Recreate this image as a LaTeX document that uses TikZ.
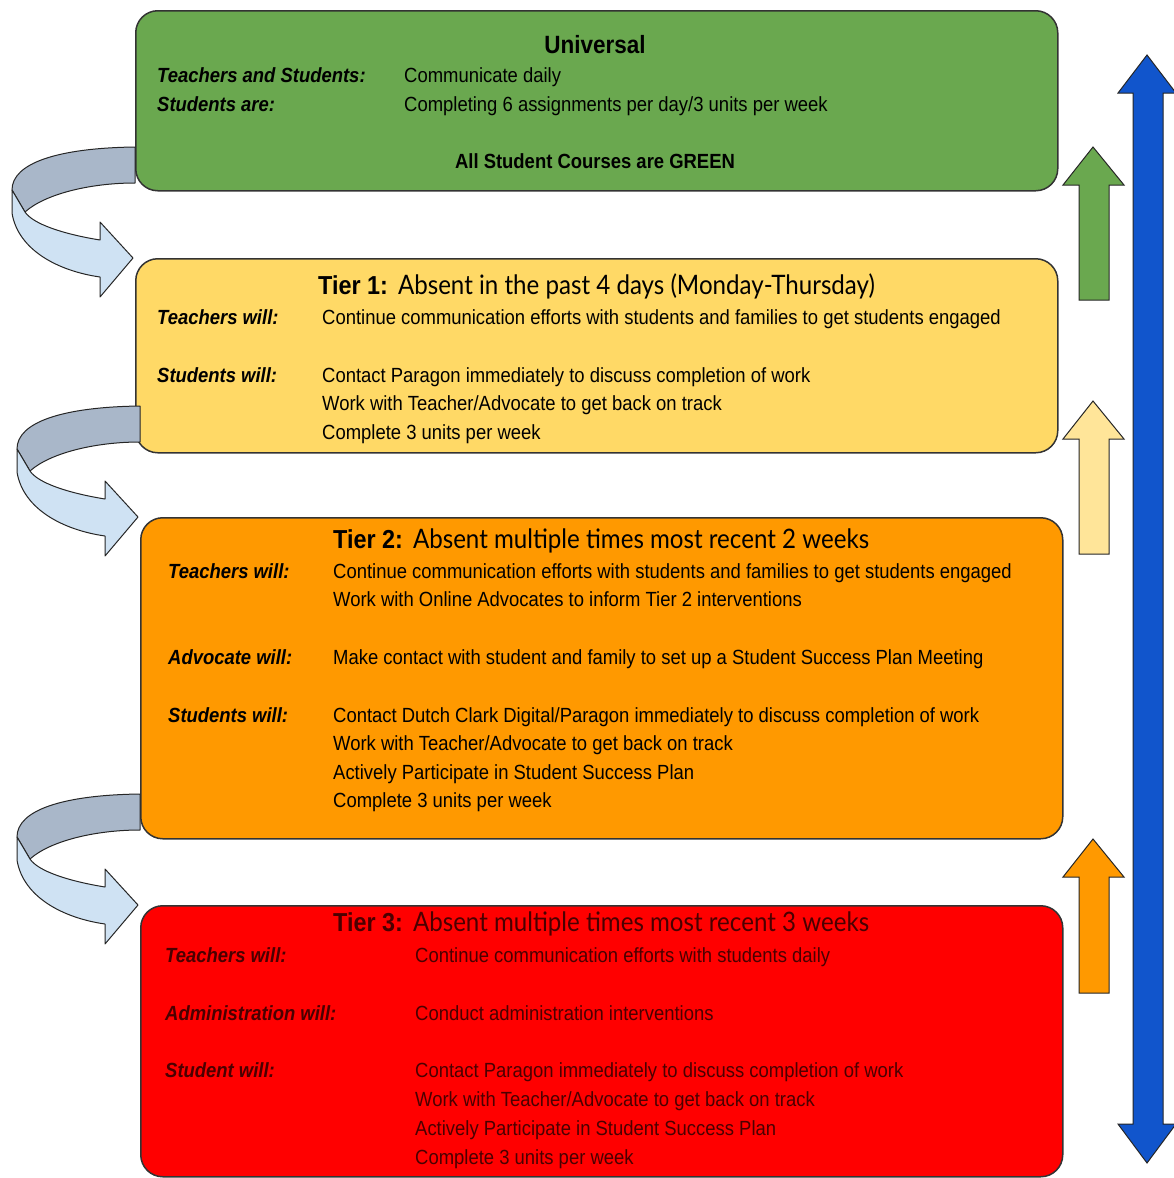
\documentclass[tikz,border=0pt]{standalone}
\usepackage{fontspec}
\setmainfont{Liberation Sans}[FakeStretch=0.9]
\newfontfamily\titlefont{Lato}[FakeStretch=0.9]
\usepackage{xcolor}
\usetikzlibrary{positioning}

\definecolor{univgreen}{HTML}{6AA84F}
\definecolor{tieryellow}{HTML}{FFD966}
\definecolor{tierorange}{HTML}{FF9900}
\definecolor{tierred}{HTML}{FF0000}
\definecolor{paleyellow}{HTML}{FFE599}
\definecolor{rangeblue}{HTML}{1155CC}
\definecolor{ribbondark}{HTML}{A9B7C9}
\definecolor{ribbonlight}{HTML}{CFE2F3}
\definecolor{redtext}{HTML}{4A0000}

\tikzset{
  tierbox/.style={draw=black!80, line width=1.5pt, rounded corners=22pt, minimum width=922pt, anchor=north west, inner sep=0pt},
  who/.style={anchor=base west, inner sep=0pt, font=\fontsize{20.5}{24}\selectfont\bfseries\itshape},
  todo/.style={anchor=base west, inner sep=0pt, font=\fontsize{20.5}{24}\selectfont},
  tiertitle/.style={anchor=base west, inner sep=0pt, font=\fontsize{26}{30}\selectfont\bfseries},
  blockarrow/.style={draw=black!85, line width=1pt, line join=miter},
  ribbon/.style={draw=black!85, line width=1pt, line join=round}
}

\begin{document}
\begin{tikzpicture}[x=1pt, y=-1pt]
    \useasboundingbox (0,0) rectangle (1173,1178);

    % Boxes
    \node[tierbox, fill=univgreen, minimum height=180pt] (univ) at (135,10) {};
    \node[tierbox, fill=tieryellow, minimum height=194pt] (tierone) at (135,258) {};
    \node[tierbox, fill=tierorange, minimum height=321pt] (tiertwo) at (140,517) {};
    \node[tierbox, fill=tierred, minimum height=271pt] (tierthree) at (140,905) {};

    % Universal
    \node[anchor=base, inner sep=0pt, font=\fontsize{25}{30}\selectfont\bfseries] (univtitle) at (595,53) {Universal};
    \node[who] (univwho) at (157,82) {Teachers and Students:};
    \node[todo] (univdo) at (404,82) {Communicate daily};
    \node[who] (univare) at (157,111) {Students are:};
    \node[todo] (univpace) at (404,111) {Completing 6 assignments per day/3 units per week};
    \node[anchor=base, inner sep=0pt, font=\fontsize{20.5}{24}\selectfont\bfseries] (univgreen) at (595,168) {All Student Courses are GREEN};

    % Tier 1
    \node[tiertitle] (onetitle) at (318,294) {Tier 1:\hspace{10pt}\mdseries\fontsize{26.8}{30}\selectfont\titlefont Absent in the past 4 days (Monday-Thursday)};
    \node[who] (oneteach) at (157,324) {Teachers will:};
    \node[todo] (oneteachdo) at (322,324) {Continue communication efforts with students and families to get students engaged};
    \node[who] (onestud) at (157,382) {Students will:};
    \node[todo] (onestudone) at (322,382) {Contact Paragon immediately to discuss completion of work};
    \node[todo] (onestudtwo) at (322,410) {Work with Teacher/Advocate to get back on track};
    \node[todo] (onestudthree) at (322,439) {Complete 3 units per week};

    % Tier 2
    \node[tiertitle] (twotitle) at (333,548) {Tier 2:\hspace{10pt}\mdseries\fontsize{26.8}{30}\selectfont\titlefont Absent multiple times most recent 2 weeks};
    \node[who] (twoteach) at (168,578) {Teachers will:};
    \node[todo] (twoteachone) at (333,578) {Continue communication efforts with students and families to get students engaged};
    \node[todo] (twoteachtwo) at (333,606) {Work with Online Advocates to inform Tier 2 interventions};
    \node[who] (twoadv) at (168,664) {Advocate will:};
    \node[todo] (twoadvdo) at (333,664) {Make contact with student and family to set up a Student Success Plan Meeting};
    \node[who] (twostud) at (168,722) {Students will:};
    \node[todo] (twostudone) at (333,722) {Contact Dutch Clark Digital/Paragon immediately to discuss completion of work};
    \node[todo] (twostudtwo) at (333,750) {Work with Teacher/Advocate to get back on track};
    \node[todo] (twostudthree) at (333,779) {Actively Participate in Student Success Plan};
    \node[todo] (twostudfour) at (333,807) {Complete 3 units per week};

    % Tier 3
    \begin{scope}[text=redtext]
    \node[tiertitle] (threetitle) at (333,931) {Tier 3:\hspace{10pt}\mdseries\fontsize{26.8}{30}\selectfont\titlefont Absent multiple times most recent 3 weeks};
    \node[who] (threeteach) at (165,962) {Teachers will:};
    \node[todo] (threeteachdo) at (415,962) {Continue communication efforts with students daily};
    \node[who] (threeadmin) at (165,1020) {Administration will:};
    \node[todo] (threeadmindo) at (415,1020) {Conduct administration interventions};
    \node[who] (threestud) at (165,1077) {Student will:};
    \node[todo] (threestudone) at (415,1077) {Contact Paragon immediately to discuss completion of work};
    \node[todo] (threestudtwo) at (415,1106) {Work with Teacher/Advocate to get back on track};
    \node[todo] (threestudthree) at (415,1135) {Actively Participate in Student Success Plan};
    \node[todo] (threestudfour) at (415,1164) {Complete 3 units per week};
    \end{scope}

    % Curved arrows down the left side
    \foreach \nxt in {tierone, tiertwo, tierthree} {
      \begin{scope}[shift={([xshift=-2pt]\nxt.north west)}]
        \filldraw[ribbon, fill=ribbondark] (2,-111) .. controls (-75,-110) and (-121,-95) .. (-121,-68)
          -- (-108,-46) .. controls (-88,-64) and (-43,-75) .. (2,-75) -- cycle;
        \filldraw[ribbon, fill=ribbonlight] (-121,-68) -- (-121,-45) .. controls (-115,-8) and (-75,13) .. (-33,19)
          -- (-33,39) -- (0,0) -- (-33,-36) -- (-33,-18) .. controls (-70,-24) and (-100,-34) .. (-108,-46) -- cycle;
      \end{scope}
    }

    % Up arrows on the right
    \foreach \tip/\bot/\col in {147/300/univgreen, 401/554/paleyellow, 839/993/tierorange} {
      \filldraw[blockarrow, fill=\col] (1093,\tip) -- (1124,\tip+38) -- (1109,\tip+38) -- (1109,\bot)
        -- (1079,\bot) -- (1079,\tip+38) -- (1063,\tip+38) -- cycle;
    }

    % Blue range arrow
    \filldraw[blockarrow, fill=rangeblue] (1147,55) -- (1176,93) -- (1163,93) -- (1163,1124) -- (1176,1124)
      -- (1147,1163) -- (1118,1124) -- (1133,1124) -- (1133,93) -- (1118,93) -- cycle;
\end{tikzpicture}
\end{document}
